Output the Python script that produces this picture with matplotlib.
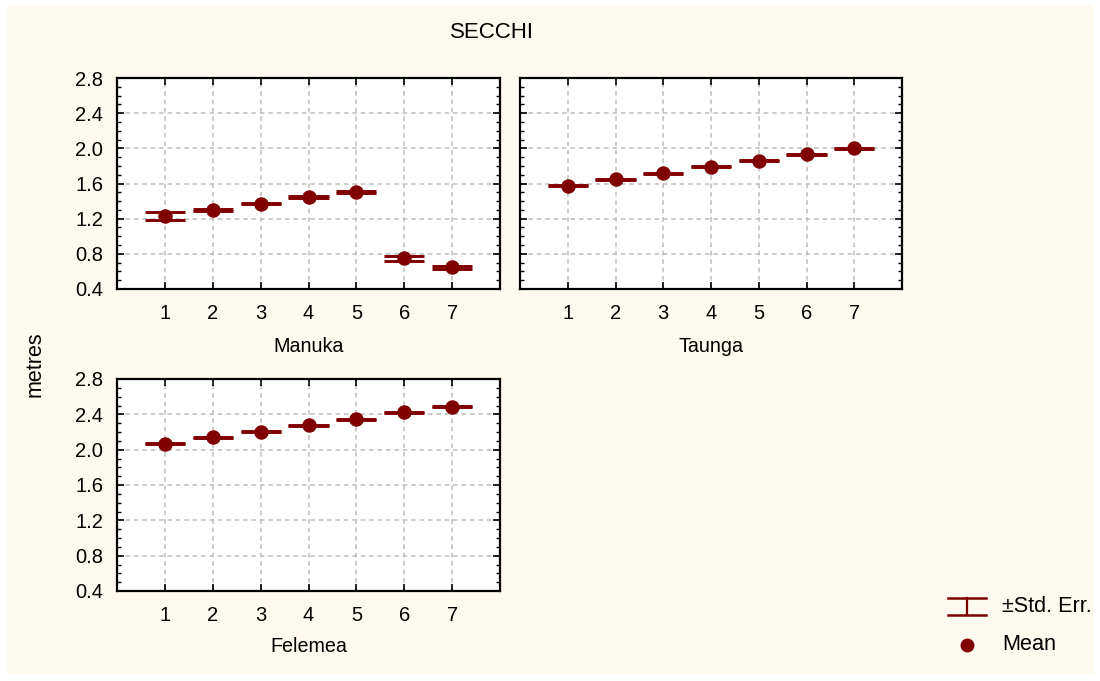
import matplotlib
matplotlib.use("Agg")
import matplotlib.pyplot as plt
from matplotlib.patches import Rectangle
from matplotlib.lines import Line2D
from matplotlib.ticker import MultipleLocator

plt.rcParams['font.family'] = ['Liberation Sans', 'DejaVu Sans']

# Secchi depth (metres) per sampling occasion at each site
occasions = [1, 2, 3, 4, 5, 6, 7]
manuka_mean = [1.232, 1.300, 1.370, 1.447, 1.505, 0.748, 0.645]
manuka_se = [0.043, 0.008, 0.006, 0.007, 0.015, 0.027, 0.018]
taunga_mean = [1.577, 1.648, 1.718, 1.790, 1.860, 1.935, 2.000]
taunga_se = [0.006, 0.006, 0.006, 0.006, 0.006, 0.006, 0.006]
felemea_mean = [2.068, 2.140, 2.205, 2.275, 2.345, 2.422, 2.488]
felemea_se = [0.006, 0.006, 0.006, 0.006, 0.006, 0.006, 0.006]

title = "SECCHI"
y_label = "metres"
y_ticks = [0.4, 0.8, 1.2, 1.6, 2.0, 2.4, 2.8]

RED = '#800000'
CREAM = '#fffaef'
W, H = 1100, 681

fig = plt.figure(figsize=(W / 100, H / 100), dpi=100, facecolor='white')
fig.patches.append(Rectangle((7 / W, 1 - 674 / H), 1087 / W, 669 / H,
                             transform=fig.transFigure, facecolor=CREAM,
                             edgecolor='none', zorder=-10))


def px_axes(left, top, right, bottom):
    return fig.add_axes([left / W, 1 - bottom / H, (right - left) / W, (bottom - top) / H])


def draw_panel(ax, means, ses, name, label_y):
    ax.set_facecolor('white')
    half = 0.42
    lo = [m - s for m, s in zip(means, ses)]
    hi = [m + s for m, s in zip(means, ses)]
    ax.vlines(occasions, lo, hi, color=RED, lw=1.8, zorder=3)
    for vals in (lo, hi):
        ax.hlines(vals, [x - half for x in occasions], [x + half for x in occasions],
                  color=RED, lw=2.1, zorder=3)
    ax.plot(occasions, means, 'o', color=RED, ms=9.4, zorder=4, mec=RED)
    ax.set_xlim(0, 8)
    ax.set_ylim(0.4, 2.8)
    ax.set_xticks(occasions)
    ax.set_yticks(y_ticks)
    ax.set_yticklabels([f"{v:.1f}" for v in y_ticks])
    ax.yaxis.set_minor_locator(MultipleLocator(0.1))
    ax.tick_params(which='both', direction='in', top=True, right=True,
                   labelsize=14.5, color='black')
    ax.tick_params(which='major', length=5, width=1.2)
    ax.tick_params(which='minor', length=3, width=1.0)
    ax.tick_params(axis='x', pad=10.5)
    ax.tick_params(axis='y', pad=10)
    ax.grid(True, which='major', color='#bdbdbd', linestyle=(0, (3, 2.5)), lw=1.1)
    ax.set_axisbelow(True)
    for sp in ax.spines.values():
        sp.set_linewidth(1.6)
    ax.set_xlabel(name, fontsize=14.2)
    ax.xaxis.label.set_va('center')
    ax.xaxis.set_label_coords(0.5, label_y)


ax1 = px_axes(117, 78, 500, 289)
ax2 = px_axes(520, 78, 902, 289)
ax3 = px_axes(117, 379, 500, 591)

draw_panel(ax1, manuka_mean, manuka_se, "Manuka", -0.272)
draw_panel(ax2, taunga_mean, taunga_se, "Taunga", -0.272)
draw_panel(ax3, felemea_mean, felemea_se, "Felemea", -0.262)
ax2.set_yticklabels([])

fig.text(492 / W, 1 - 32 / H, title, ha='center', va='center', fontsize=16)
fig.text(35 / W, 1 - 364 / H, y_label, ha='center', va='center', rotation=90, fontsize=15.5)

# key for the symbols
lax = fig.add_axes([0, 0, 1, 1], facecolor='none')
lax.set_xlim(0, W)
lax.set_ylim(H, 0)
lax.axis('off')
lax.add_line(Line2D([948, 986], [598, 598], color=RED, lw=1.8))
lax.add_line(Line2D([948, 986], [615, 615], color=RED, lw=1.8))
lax.add_line(Line2D([967, 967], [598, 615], color=RED, lw=1.6))
lax.plot([967], [645], 'o', color=RED, ms=9.0)
lax.text(1002, 606, "\u00b1Std. Err.", ha='left', va='center', fontsize=15.6)
lax.text(1002, 644, "Mean", ha='left', va='center', fontsize=15.6)

fig.savefig("out.png", dpi=100, facecolor=fig.get_facecolor())
